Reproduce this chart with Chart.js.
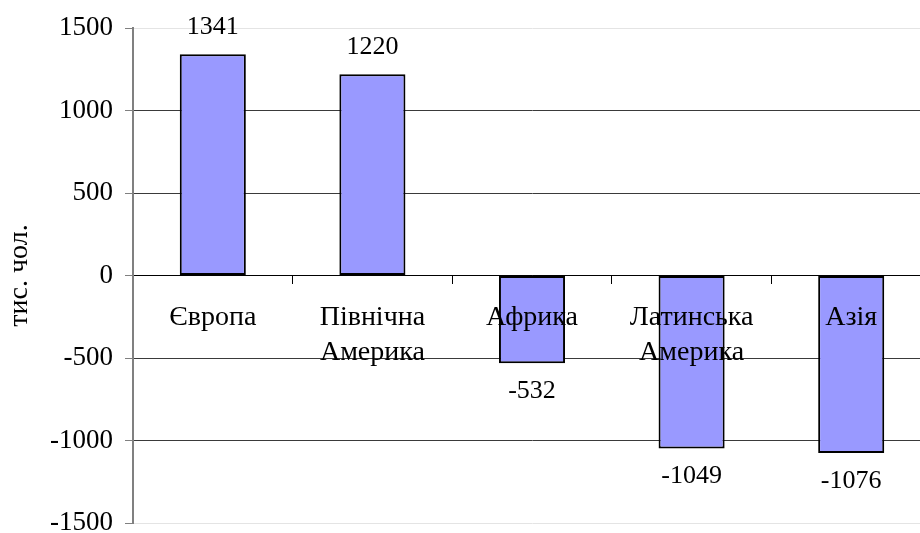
<!DOCTYPE html>
<html>
<head>
<meta charset="utf-8">
<script src="https://cdn.jsdelivr.net/npm/chart.js@4/dist/chart.umd.min.js"></script>
<style>
  html, body { margin: 0; padding: 0; background: #fff; overflow: hidden; }
  #wrap { width: 931px; height: 533px; position: relative; }
</style>
</head>
<body>
<div id="wrap"><canvas id="bar_chart"></canvas></div>
<script>
// дані
const regions = [['Європа'], ['Північна', 'Америка'], ['Африка'], ['Латинська', 'Америка'], ['Азія']];
const migration = [1341, 1220, -532, -1049, -1076];
const yTicks = [-1500, -1000, -500, 0, 500, 1000, 1500];

const serif = 'Liberation Serif, Times New Roman, serif';

// підписи значень над/під стовпчиками
const valueLabels = {
    id: 'valueLabels',
    afterDatasetsDraw: function (chart) {
        let ctx = chart.ctx;
        let meta = chart.getDatasetMeta(0);
        ctx.save();
        ctx.font = '26px ' + serif;
        ctx.fillStyle = '#000';
        ctx.textAlign = 'center';
        ctx.textBaseline = 'middle';
        meta.data.forEach(function (bar, i) {
            let v = migration[i];
            let y = v >= 0 ? bar.y - 27 : bar.y + 28;
            ctx.fillText(String(v), bar.x, y);
        });
        ctx.restore();
    }
};

let ctx = document.getElementById('bar_chart').getContext('2d');
let myChart = new Chart(ctx, {
    type: 'bar',
    data: {
        labels: regions,
        datasets: [{
            data: migration,
            backgroundColor: '#9999FF',
            borderColor: '#000',
            borderWidth: 2,
            borderSkipped: false,
            barPercentage: 0.414,
            categoryPercentage: 1
        }]
    },
    options: {
        responsive: true,
        maintainAspectRatio: false,
        animation: false,
        layout: { padding: { top: 28, bottom: 10, left: 0, right: 0 } },
        plugins: {
            legend: { display: false },
            tooltip: { enabled: false }
        },
        scales: {
            x: {
                position: { y: 0 },
                offset: true,
                grid: {
                    display: true,
                    drawOnChartArea: false,
                    drawTicks: true,
                    tickLength: 8,
                    tickColor: '#000',
                    offset: true
                },
                border: { display: true, color: '#000', width: 1 },
                ticks: {
                    z: 1,
                    color: '#000',
                    font: { family: serif, size: 28, lineHeight: 1.25 },
                    padding: 17,
                    maxRotation: 0,
                    autoSkip: false
                }
            },
            y: {
                min: -1500,
                max: 1500,
                afterBuildTicks: function (scale) {
                    scale.ticks = yTicks.map(function (v) { return { value: v }; });
                },
                afterFit: function (scale) {
                    scale.width = 133;
                    scale.paddingTop = 0;
                    scale.paddingBottom = 0;
                },
                grid: {
                    color: function (c) {
                        let v = c.tick.value;
                        if (v === 0) return '#000';
                        if (Math.abs(v) === 1500) return '#e4e4e4';
                        return '#3a3a3a';
                    },
                    tickColor: '#808080',
                    tickLength: 8
                },
                border: { display: true, color: '#808080', width: 2 },
                ticks: {
                    color: '#000',
                    font: { family: serif, size: 27 },
                    padding: 12,
                    callback: function (v) { return String(v); }
                },
                title: {
                    display: true,
                    text: 'тис. чол.',
                    color: '#000',
                    font: { family: serif, size: 28 },
                    padding: { top: 3, bottom: 0 }
                }
            }
        }
    },
    plugins: [valueLabels]
});
</script>
</body>
</html>
